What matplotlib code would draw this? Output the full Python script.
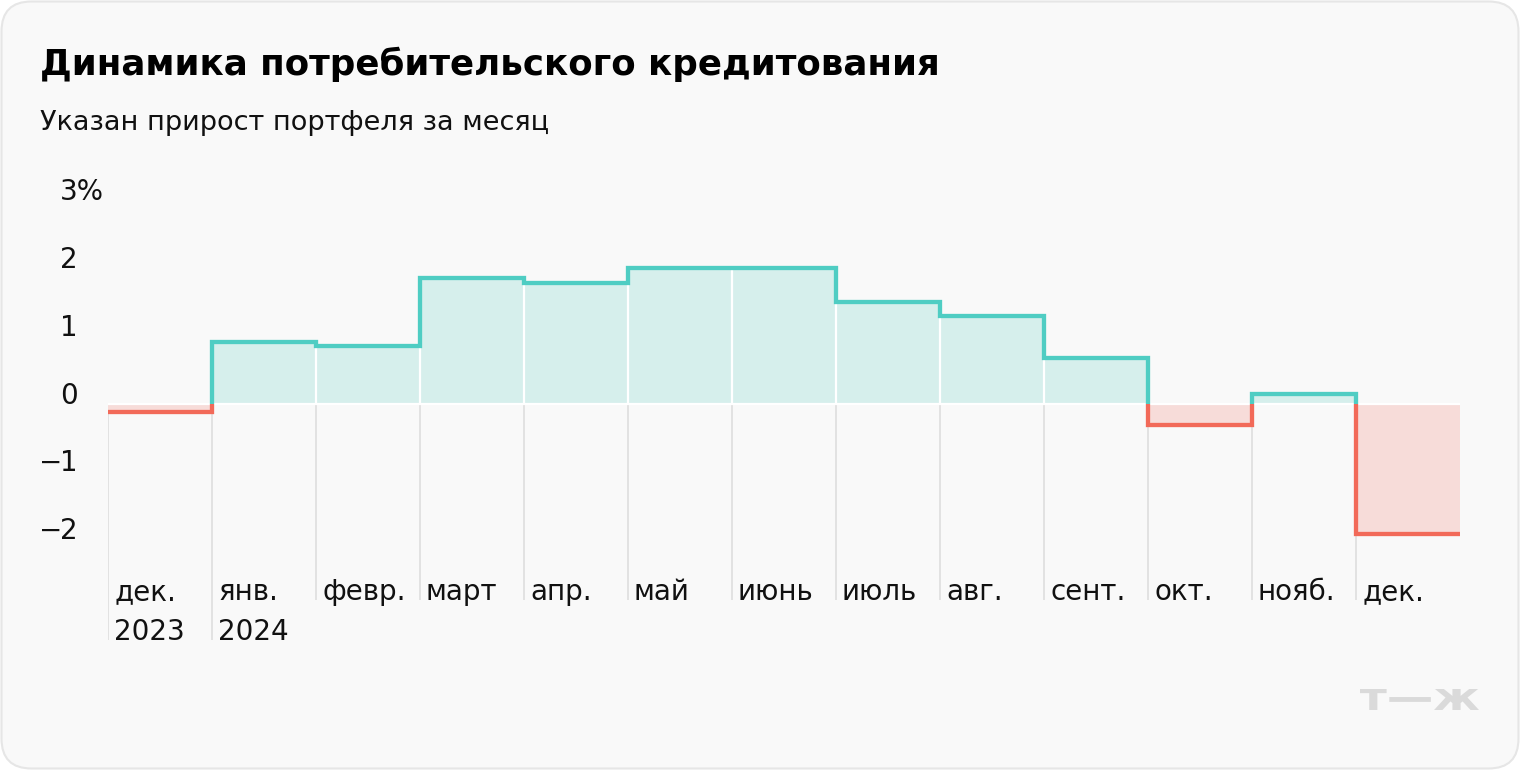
import matplotlib
matplotlib.use("Agg")
import matplotlib.pyplot as plt
import numpy as np
from matplotlib.patches import FancyBboxPatch, Rectangle, PathPatch
from matplotlib.textpath import TextPath
from matplotlib.font_manager import FontProperties
from matplotlib.transforms import Affine2D

# ---------------- data ----------------
months = ["дек.\n2023", "янв.\n2024", "февр.", "март", "апр.", "май", "июнь",
          "июль", "авг.", "сент.", "окт.", "нояб.", "дек."]
growth = [-0.12, 0.90, 0.85, 1.85, 1.77, 2.00, 2.00, 1.50, 1.29, 0.67, -0.31, 0.14, -1.92]
yticks = [3, 2, 1, 0, -1, -2]
ytick_labels = ["3%", "2", "1", "0", "−1", "−2"]
title = "Динамика потребительского кредитования"
subtitle = "Указан прирост портфеля за месяц"

# ---------------- style ----------------
FONT = "DejaVu Sans"
TEAL = "#4fcdc3"
TEAL_FILL = "#d6efec"
RED = "#f26a59"
RED_FILL = "#f7dcd9"
GRID = "#e2e2e2"
BG = "#f9f9f9"
TXT = "#111111"

W, H = 1520, 770
fig = plt.figure(figsize=(W / 100, H / 100), dpi=100)
fig.patch.set_facecolor("white")

# background card (pixel coordinates)
bg = fig.add_axes([0, 0, 1, 1])
bg.set_xlim(0, W)
bg.set_ylim(H, 0)
bg.axis("off")
bg.add_patch(FancyBboxPatch((1.5, 1.5), W - 3, H - 3,
                            boxstyle="round,pad=0,rounding_size=30",
                            fc=BG, ec="#e6e6e6", lw=1.5))
bg.text(40, 75, title, fontsize=25.7, fontweight="bold", family=FONT,
        color="#000000", va="baseline", ha="left")
bg.text(40, 130, subtitle, fontsize=19.5, family=FONT,
        color=TXT, va="baseline", ha="left")

# watermark т—ж scaled into its box
fp = FontProperties(family=FONT, weight="bold")
tp = TextPath((0, 0), "т—ж", size=10, prop=fp)
ext = tp.get_extents()
x0, x1, ytop, ybot = 1360, 1479, 689, 710
sx = (x1 - x0) / ext.width
sy = (ybot - ytop) / ext.height
tr = Affine2D().translate(-ext.x0, -ext.y0).scale(sx, -sy).translate(x0, ybot)
bg.add_patch(PathPatch(tr.transform_path(tp), fc="#dadada", ec="none"))

# ---------------- main chart ----------------
left_px, right_px = 108, 1460
top_px, bot_px = 160, 660
zero_px, unit_px = 403.5, 67.8
ax = fig.add_axes([left_px / W, (H - bot_px) / H,
                   (right_px - left_px) / W, (bot_px - top_px) / H])
ax.set_xlim(0, len(months))
ax.set_ylim(-(bot_px - zero_px) / unit_px, (zero_px - top_px) / unit_px)
ax.axis("off")
ax.patch.set_visible(False)

def px2y(py):
    return (zero_px - py) / unit_px

v = np.array(growth)
edges = np.arange(len(v) + 1)

# gray vertical gridlines below zero + month labels
for i, lab in enumerate(months):
    nlines = lab.count("\n") + 1
    yb = px2y(600 + 40 * (nlines - 1))
    ax.vlines(i, yb, 0, color=GRID, lw=1.4, zorder=1)
    for k, line in enumerate(lab.split("\n")):
        ax.text(i + 6 / 104, px2y(600 + 40 * k), line, fontsize=20, family=FONT,
                color=TXT, ha="left", va="baseline", zorder=5)

# fills
ax.stairs(np.where(v > 0, v, 0), edges, baseline=0, fill=True,
          color=TEAL_FILL, lw=0, zorder=2)
ax.stairs(np.where(v < 0, v, 0), edges, baseline=0, fill=True,
          color=RED_FILL, lw=0, zorder=2)

# white separators inside positive fill
for i in range(1, len(v)):
    if v[i - 1] > 0 and v[i] > 0:
        ax.vlines(i, 0, min(v[i - 1], v[i]), color="white", lw=1.6, zorder=3)
ax.hlines(0, 0, len(v), color="white", lw=1.6, zorder=3)

# step line, colored by sign
pos = ax.stairs(v, edges, baseline=None, color=TEAL, lw=3.1, zorder=4)
neg = ax.stairs(v, edges, baseline=None, color=RED, lw=3.1, zorder=4)
pos.set_clip_path(Rectangle((-1, 0), len(v) + 2, 20, transform=ax.transData))
neg.set_clip_path(Rectangle((-1, -20), len(v) + 2, 20, transform=ax.transData))
for a in (pos, neg):
    a.set_joinstyle("miter")
    a.set_capstyle("butt")

# y tick labels
for val, lab in zip(yticks, ytick_labels):
    py = zero_px - val * unit_px
    if lab.startswith("−"):
        bg.text(62, py, "−", fontsize=20, family=FONT, color=TXT,
                ha="right", va="baseline")
        lab = lab[1:]
    bg.text(60, py, lab, fontsize=20, family=FONT, color=TXT,
            ha="left", va="baseline")

fig.savefig("out.png", dpi=100, facecolor="white")
